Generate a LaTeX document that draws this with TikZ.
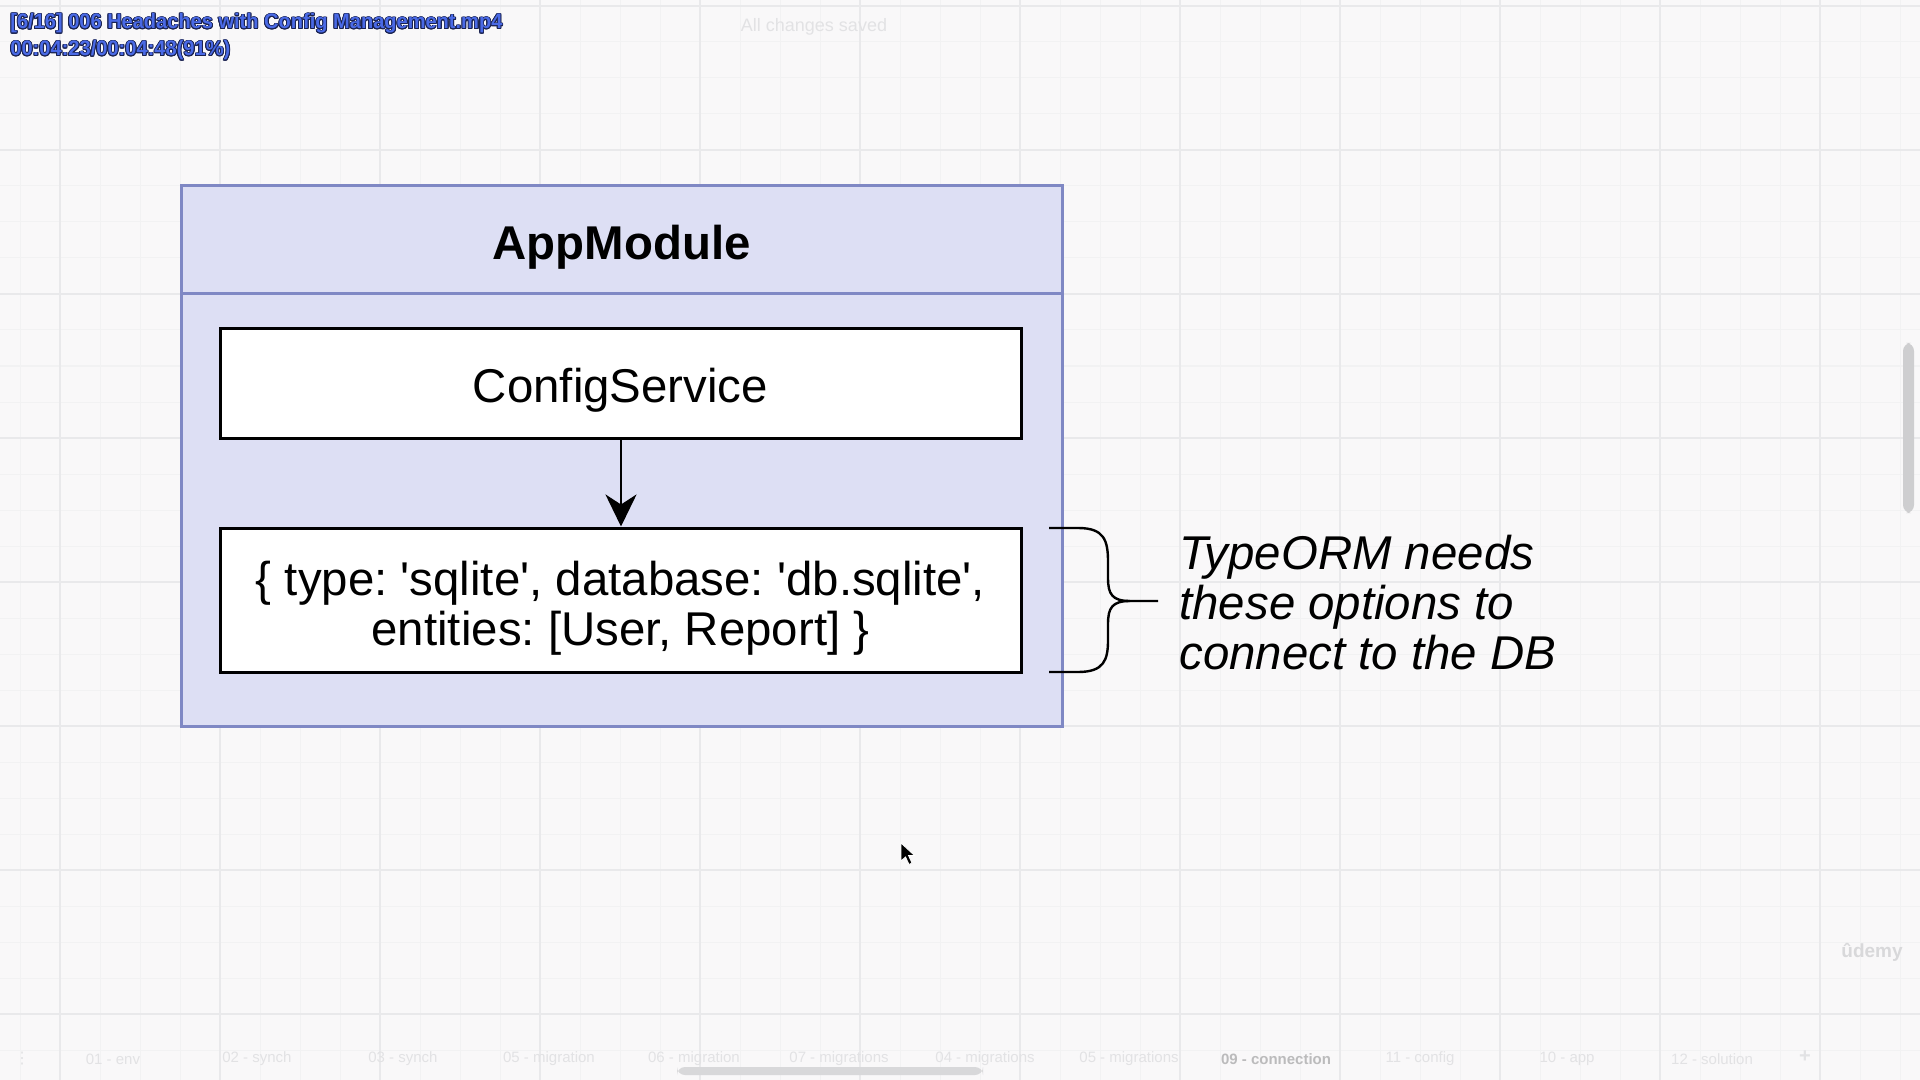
\documentclass[tikz,border=0pt]{standalone}
\usepackage{fontspec}
\setmainfont{Liberation Sans}
\newfontfamily\plainfont{Liberation Sans}
\newfontfamily\symfont{DejaVu Sans}
\usepackage{graphicx}
\usepackage{contour}
\contourlength{0.45pt}
\usetikzlibrary{arrows.meta,calc}
\definecolor{bg}{HTML}{F9F8F9}
\definecolor{gridmajor}{HTML}{E9E9EB}
\definecolor{gridminor}{HTML}{F2F2F3}
\definecolor{modfill}{HTML}{DDDFF4}
\definecolor{modline}{HTML}{7F88C4}
\definecolor{overlay}{HTML}{4A6AE6}
\definecolor{overlayedge}{HTML}{1A2250}
\definecolor{faint}{HTML}{E2E2E4}
\tikzset{
  bigfont/.style={font=\fontsize{23.7}{25}\selectfont},
  modbox/.style={draw=modline, line width=1.5pt, fill=modfill, minimum width=440.5pt, minimum height=270pt, inner sep=0pt},
  whitebox/.style={draw=black, line width=1.5pt, fill=white, minimum width=400.5pt, inner sep=0pt, font=\plainfont\frenchspacing\fontsize{23.7}{25}\selectfont, align=center},
  flow/.style={line width=1.4pt, -{Stealth[length=16pt, width=15.5pt, inset=5pt]}},
  bracepath/.style={line width=1.2pt},
  tab/.style={text=faint, font=\fontsize{7.5}{9}\selectfont, anchor=center},
}
\begin{document}
\begin{tikzpicture}[x=0.5pt,y=-0.5pt]
\useasboundingbox (0,0) rectangle (1920,1080);
\fill[bg] (0,0) rectangle (1920,1080);
% grid
\foreach \x in {20,60,...,1900} \draw[gridminor, line width=0.5pt] (\x,0) -- (\x,1080);
\foreach \y in {6,42,...,1080} \draw[gridminor, line width=0.5pt] (0,\y) -- (1920,\y);
\foreach \x in {60,220,...,1900} \draw[gridmajor, line width=0.6pt] (\x,0) -- (\x,1080);
\foreach \y in {6,150,...,1080} \draw[gridmajor, line width=0.6pt] (0,\y) -- (1920,\y);

% overlay texts
\node[anchor=west, inner sep=0pt, text=overlay] (vidtitle) at (10,24)
  {\resizebox{246pt}{\height}{\fontsize{10.5}{12}\selectfont\bfseries\contour{overlayedge}{[6/16] 006 Headaches with Config Management.mp4}}};
\node[anchor=west, inner sep=0pt, text=overlay] (vidtime) at (10,51)
  {\resizebox{110pt}{\height}{\fontsize{10.5}{12}\selectfont\bfseries\contour{overlayedge}{00:04:23/00:04:48(91\%)}}};
\node[anchor=center, text=faint, font=\fontsize{9}{11}\selectfont] (saved) at (814,27) {All changes saved};

% module
\node[modbox] (app) at (621.5,456) {};
\coordinate (hl) at (181,294);
\coordinate (hr) at (1062,294);
\draw[modline, line width=1.5pt] (hl) -- (hr);
\node[font=\fontsize{23.7}{25}\selectfont\bfseries] (title) at (621.5,247) {AppModule};

\node[whitebox, minimum height=54.5pt, text depth=1.5pt] (config) at (620.5,383.5) {\raisebox{-3.5pt}{ConfigService}};
\node[whitebox, minimum height=72pt] (opts) at (620.5,600)
  {\raisebox{-11.5pt}[0pt][0pt]{\begin{tabular}{@{}c@{}}\{ type: 'sqlite', database: 'db.sqlite',\\[0pt] entities: [User, Report] \}\end{tabular}}};
\draw[flow] (config.south -| 621,0) -- (opts.north -| 621,0);

% brace
\coordinate (bt) at (1049,528);
\coordinate (bb) at (1049,672);
\coordinate (btip) at (1158,601);
\draw[bracepath] (bt) -- (1078,528) .. controls (1104,528) and (1108,540) .. (1108,562)
  -- (1108,578) .. controls (1108,594) and (1112,601) .. (1130,601) -- (btip);
\draw[bracepath] (bb) -- (1078,672) .. controls (1104,672) and (1108,660) .. (1108,640)
  -- (1108,624) .. controls (1108,608) and (1112,601) .. (1130,601);
\node[anchor=west, align=left, inner sep=0pt, font=\fontsize{23.7}{25}\selectfont\itshape] (note) at (1179,603)
  {TypeORM needs\\these options to\\connect to the DB};

% cursor
\filldraw[fill=black, draw=white, line width=0.4pt] (901,843) -- (901,861) -- (905.5,857) -- (909,864.5) -- (912,863) -- (908.5,855.5) -- (914.5,855.5) -- cycle;

% watermark
\node[text=faint!90!gray, font=\fontsize{9.5}{11}\selectfont\bfseries] (udemy) at (1872,952) {ûdemy};

% scrollbars
\fill[faint!80!gray, rounded corners=4pt] (1903,343) rectangle (1914,513);
\fill[faint!90!gray, rounded corners=4pt] (677,1067) rectangle (983,1075);

% tabs
\node[tab, font=\symfont\fontsize{8}{9}\selectfont] (t0) at (22,1059) {⋮};
\node[tab] (t1) at (113,1059) {01 - env};
\node[tab] (t2) at (257,1059) {02 - synch};
\node[tab] (t3) at (403,1059) {03 - synch};
\node[tab] (t4) at (549,1059) {05 - migration};
\node[tab] (t5) at (694,1059) {06 - migration};
\node[tab] (t6) at (839,1059) {07 - migrations};
\node[tab] (t7) at (985,1059) {04 - migrations};
\node[tab] (t8) at (1129,1059) {05 - migrations};
\node[tab, text=faint!60!gray, font=\fontsize{7.5}{9}\selectfont\bfseries] (t9) at (1276,1059) {09 - connection};
\node[tab] (t10) at (1420,1059) {11 - config};
\node[tab] (t11) at (1567,1059) {10 - app};
\node[tab] (t12) at (1712,1059) {12 - solution};
\node[tab, font=\fontsize{10}{12}\selectfont\bfseries] (t13) at (1805,1057) {+};
\end{tikzpicture}
\end{document}
